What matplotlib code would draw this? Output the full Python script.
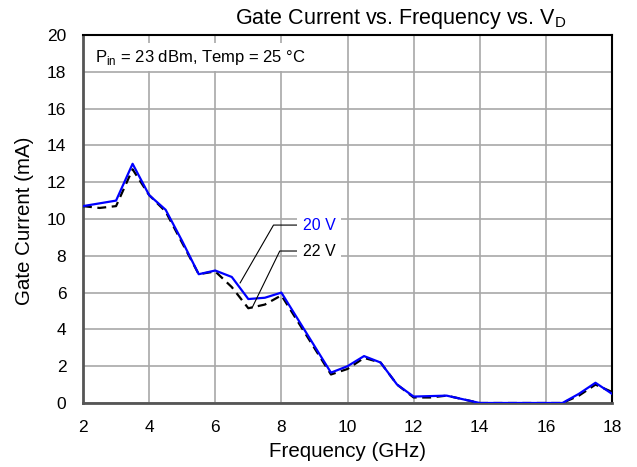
import matplotlib
matplotlib.use("Agg")
import matplotlib.pyplot as plt

plt.rcParams['font.family'] = ['Liberation Sans', 'DejaVu Sans']

freq_20 = [2, 3, 3.5, 4, 4.5, 5, 5.5, 6, 6.5, 7, 7.5, 8, 9.5, 10, 10.5, 11, 11.5, 12, 13, 14, 16.5, 17, 17.5, 18]
ig_20 = [10.7, 11.0, 13.0, 11.3, 10.5, 8.8, 7.0, 7.2, 6.85, 5.65, 5.72, 6.0, 1.65, 2.0, 2.55, 2.2, 1.0, 0.35, 0.4, 0.0, 0.0, 0.5, 1.1, 0.5]

freq_22 = [2, 2.5, 3, 3.5, 4, 4.5, 5, 5.5, 6, 6.5, 7, 7.5, 8, 9.5, 10, 10.5, 11, 11.5, 12, 12.5, 13, 14, 16.5, 17, 17.5, 18]
ig_22 = [10.7, 10.6, 10.7, 12.7, 11.3, 10.4, 8.7, 7.0, 7.15, 6.3, 5.15, 5.35, 5.85, 1.55, 1.85, 2.45, 2.2, 1.0, 0.3, 0.3, 0.4, 0.0, 0.0, 0.4, 1.0, 0.6]

x_ticks = [2, 4, 6, 8, 10, 12, 14, 16, 18]
y_ticks = [0, 2, 4, 6, 8, 10, 12, 14, 16, 18, 20]

fig = plt.figure(figsize=(6.37, 4.67), dpi=100)
ax = fig.add_axes([83/637, 1-403/467, (612-83)/637, (403-35)/467])

ax.plot(freq_22, ig_22, color='black', lw=1.6, ls=(0, (4, 2.5)), zorder=3)
ax.plot(freq_20, ig_20, color='#0000ff', lw=1.6, zorder=4)

ax.set_xlim(2, 18)
ax.set_ylim(0, 20)
ax.set_xticks(x_ticks)
ax.set_yticks(y_ticks)
ax.grid(True, which='major', color='#a8a8a8', lw=1.2)
ax.tick_params(which='both', length=0, labelsize=12.5, pad=12)
ax.set_axisbelow(True)

for s in ['top', 'right']:
    ax.spines[s].set_color('black')
    ax.spines[s].set_linewidth(1.5)
for s in ['left', 'bottom']:
    ax.spines[s].set_color('#555555')
    ax.spines[s].set_linewidth(2.0)

ax.set_xlabel('Frequency (GHz)', fontsize=14.8)
ax.set_ylabel('Gate Current (mA)', fontsize=14.8)
ax.xaxis.set_label_coords(0.5, -0.107)
ax.yaxis.set_label_coords(-0.092, 0.495)
ax.text(0.601, 1.012, 'Gate Current vs. Frequency vs. V$_\\mathregular{D}$', fontsize=15.5,
        ha='center', va='bottom', transform=ax.transAxes)

ax.text(2.36, 18.8, 'P$_\\mathregular{in}$ = 23 dBm, Temp = 25 °C', fontsize=12, va='center', ha='left',
        bbox=dict(facecolor='white', edgecolor='none', pad=3), zorder=5)

# annotations
ax.annotate('20 V', xy=(6.75, 6.52), xytext=(8.65, 9.67), fontsize=11.5, color='#0000ff',
            va='center', ha='left',
            bbox=dict(facecolor='white', edgecolor='none', pad=4),
            arrowprops=dict(arrowstyle='-', color='black', lw=0.8,
                            connectionstyle='angle,angleA=0,angleB=60,rad=0',
                            relpos=(0, 0.5), shrinkA=0, shrinkB=0), zorder=6)
ax.annotate('22 V', xy=(7.11, 5.16), xytext=(8.65, 8.26), fontsize=11.5, color='black',
            va='center', ha='left',
            bbox=dict(facecolor='white', edgecolor='none', pad=4),
            arrowprops=dict(arrowstyle='-', color='black', lw=0.8,
                            connectionstyle='angle,angleA=0,angleB=64,rad=0',
                            relpos=(0, 0.5), shrinkA=0, shrinkB=0), zorder=6)

fig.savefig('out.png', dpi=100)
